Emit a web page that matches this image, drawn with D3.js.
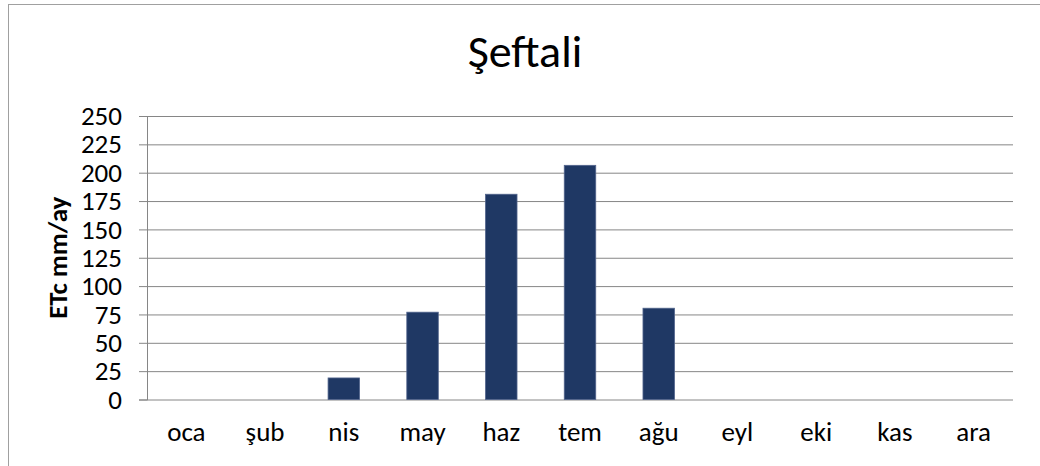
<!DOCTYPE html>
<html>
<head>
<meta charset="utf-8">
<script src="https://cdn.jsdelivr.net/npm/d3@7.9.0/dist/d3.min.js"></script>
<style>
  html, body { margin: 0; padding: 0; background: #fff; }
  svg { display: block; font-family: Carlito, Calibri, Lato, sans-serif; }
</style>
</head>
<body>
<svg width="1040" height="466"></svg>
<script>
const months = ['oca', 'şub', 'nis', 'may', 'haz', 'tem', 'ağu', 'eyl', 'eki', 'kas', 'ara'];
const etc = [0, 0, 19, 77, 181, 206.5, 80.5, 0, 0, 0, 0];
const yTicks = [0, 25, 50, 75, 100, 125, 150, 175, 200, 225, 250];

const svg = d3.select('svg');

// chart frame (only top and left edges fall inside the window)
svg.append('rect')
  .attr('x', 8.5).attr('y', 4.5)
  .attr('width', 1100).attr('height', 600)
  .attr('fill', 'none')
  .attr('stroke', '#a0a0a0');

const plotL = 147, plotR = 1013, plotT = 116, plotB = 399.5;

const x = d3.scaleBand().domain(months).range([plotL, plotR]).padding(0);
const y = d3.scaleLinear().domain([0, 250]).range([plotB, plotT]);

svg.append('text')
  .attr('x', 525).attr('y', 67)
  .attr('text-anchor', 'middle')
  .attr('font-size', 46)
  .attr('fill', '#000')
  .text('Şeftali');

// gridlines + ticks
const yAxis = svg.append('g')
  .attr('transform', `translate(${plotL},0)`)
  .call(d3.axisLeft(y).tickValues(yTicks).tickSize(8).tickPadding(17));
yAxis.select('.domain').attr('stroke', '#868686');
yAxis.selectAll('.tick line').attr('stroke', '#868686');
yAxis.selectAll('.tick text')
  .attr('font-size', 27)
  .attr('fill', '#000')
  .attr('font-family', 'Carlito, Calibri, Lato, sans-serif');
yAxis.selectAll('.tick').append('line')
  .attr('x1', 0).attr('x2', plotR - plotL)
  .attr('stroke', '#868686');

svg.append('text')
  .attr('transform', `translate(67,${(plotT + plotB) / 2}) rotate(-90)`)
  .attr('text-anchor', 'middle')
  .attr('font-size', 27)
  .attr('font-weight', 'bold')
  .attr('fill', '#000')
  .text('ETc mm/ay');

svg.selectAll('.bar')
  .data(months.map((m, i) => ({ m, v: etc[i] })).filter(d => d.v > 0))
  .enter().append('rect')
  .attr('class', 'bar')
  .attr('x', d => x(d.m) + x.bandwidth() * 0.3)
  .attr('width', x.bandwidth() * 0.4)
  .attr('y', d => y(d.v))
  .attr('height', d => y(0) - y(d.v))
  .attr('fill', '#1f3864')
  .attr('stroke', '#51648c')
  .attr('stroke-width', 0.8);

const xAxis = svg.append('g')
  .attr('transform', `translate(0,${plotB})`)
  .call(d3.axisBottom(x).tickSize(0).tickPadding(22));
xAxis.select('.domain').remove();
xAxis.selectAll('.tick text')
  .attr('font-size', 27)
  .attr('fill', '#000')
  .attr('font-family', 'Carlito, Calibri, Lato, sans-serif');
</script>
</body>
</html>
